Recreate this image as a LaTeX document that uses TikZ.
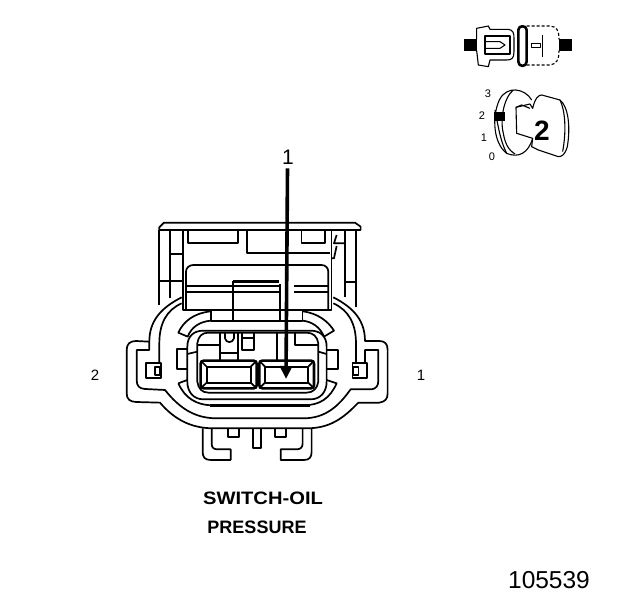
\documentclass[tikz,border=0pt]{standalone}
\usepackage{fontspec}
\setmainfont{Liberation Sans}
\usetikzlibrary{arrows.meta}
\tikzset{
    part/.style={line width=1.7pt, line join=round},
    heavy/.style={line width=2.6pt, line join=round},
    thin part/.style={line width=1.1pt, line join=round},
    lbl/.style={inner sep=0pt, font=\fontsize{15}{17}\selectfont},
    title/.style={inner sep=0pt, font=\fontsize{18}{20}\selectfont\bfseries},
    pin/.style={fill=black, draw=none}
}
\begin{document}
\begin{tikzpicture}[x=1pt,y=-1pt]
    \useasboundingbox (0,0) rectangle (624,600);

    % connector, drawn at 3x
    \begin{scope}[shift={(110,210)},x=0.3333pt,y=-0.3333pt]
        % cover
        \draw[part] (148,60) -- (148,52) -- (162,38) -- (735,38) -- (752,50) -- (752,60) -- cycle;
        \draw[part] (148,60) -- (148,285);
        \draw[part] (180,60) -- (180,265);
        \draw[part] (218,60) -- (218,300) -- (665,300) -- (665,60);
        \draw[part] (705,60) -- (705,262);
        \draw[part] (738,60) -- (738,292);
        \draw[part] (180,132) -- (218,132);
        \draw[part] (150,213) -- (218,213);
        \draw[part] (705,215) -- (738,215);
        \draw[part] (235,60) -- (235,100) -- (385,100) -- (385,60);
        \draw[part] (410,60) -- (410,128) -- (660,128);
        \draw[part] (575,60) -- (575,100) -- (645,100) -- (645,60);
        \draw[part] (680,75) -- (672,100) -- (705,100);
        \draw[part] (680,108) -- (672,145) -- (665,145);
        % sliding lock
        \draw[part] (228,300) -- (228,185) to[out=90,in=180] (250,165) -- (635,165) to[out=0,in=90] (655,185) -- (655,300);
        \draw[heavy] (370,214) -- (508,214);
        \draw[part] (228,228) -- (510,228) (228,246) -- (510,246);
        \draw[part] (553,228) -- (655,228) (553,246) -- (655,246);
        \draw[part] (370,214) -- (370,332);
        \draw[part] (510,222) -- (510,332);
        \draw[part] (302,300) -- (302,332) -- (578,332) -- (578,300);
        % body
        \draw[part] (215,262) .. controls (150,295) and (118,335) .. (118,395) -- (78,393)
            .. controls (60,393) and (50,402) .. (50,420) -- (50,550)
            .. controls (50,568) and (60,575) .. (78,576) -- (150,578)
            .. controls (190,625) and (240,655) .. (310,655) -- (590,655)
            .. controls (660,655) and (700,625) .. (745,578) -- (808,578)
            .. controls (825,575) and (833,568) .. (833,550) -- (833,420)
            .. controls (833,402) and (825,393) .. (808,393) -- (765,393)
            .. controls (765,335) and (735,295) .. (670,262);
        \draw[part] (215,280) .. controls (170,300) and (148,340) .. (148,400) -- (148,458);
        \draw[part] (670,280) .. controls (715,300) and (738,340) .. (738,400) -- (738,458);
        \draw[part] (118,395) -- (118,420) -- (80,420) -- (80,510)
            .. controls (80,528) and (88,536) .. (105,537) -- (165,540)
            .. controls (205,590) and (250,625) .. (320,625) -- (580,625)
            .. controls (645,625) and (685,590) .. (722,538) -- (785,538)
            .. controls (798,536) and (805,528) .. (805,512) -- (805,420) -- (765,420) -- (765,458);
        \draw[part] (108,458) rectangle (152,505);
        \draw[part] (134,472) rectangle (150,495);
        \draw[part] (728,458) rectangle (772,505);
        \draw[part] (730,472) rectangle (746,495);
        % ring around the plug
        \draw[part] (302,304) .. controls (250,310) and (220,335) .. (205,368) -- (233,380)
            .. controls (245,350) and (270,335) .. (302,332);
        \draw[part] (578,304) .. controls (625,310) and (655,335) .. (672,362) -- (642,380)
            .. controls (630,350) and (605,335) .. (578,332);
        \draw[part] (205,520) .. controls (225,565) and (260,586) .. (310,586) -- (580,586)
            .. controls (630,586) and (660,565) .. (680,520) -- (650,510);
        \draw[part] (205,520) -- (232,510);
        \draw[heavy] (300,586) -- (600,586);
        % plug
        \draw[part] (232,480) -- (232,410) .. controls (232,380) and (250,362) .. (280,362) -- (602,362)
            .. controls (632,362) and (650,380) .. (650,410) -- (650,515)
            .. controls (650,545) and (632,568) .. (602,568) -- (280,568)
            .. controls (250,568) and (232,545) .. (232,515) -- cycle;
        \draw[part] (262,432) -- (262,400) .. controls (265,380) and (275,368) .. (295,368) -- (590,368)
            .. controls (610,368) and (622,380) .. (625,400) -- (625,515)
            .. controls (622,535) and (610,548) .. (590,548) -- (295,548)
            .. controls (275,548) and (265,535) .. (262,515) -- cycle;
        \draw[part] (232,432) -- (262,425);
        \draw[part] (650,432) -- (625,425);
        \draw[part] (232,416) -- (200,416) -- (200,478) -- (232,478);
        \draw[part] (650,420) -- (685,420) -- (685,478) -- (650,478);
        \draw[part] (262,405) -- (330,405) (330,368) -- (330,452) (385,368) -- (385,452) (330,430) -- (385,430);
        \draw[part] (345,368) -- (345,385) .. controls (348,400) and (368,400) .. (372,385) -- (372,368);
        \draw[part] (395,368) -- (395,420) -- (432,420) -- (432,368) (395,385) -- (432,385);
        \draw[part] (500,368) -- (500,452);
        \draw[part] (555,368) -- (555,405) -- (625,405);
        % terminals
        \draw[heavy,rounded corners=3pt] (272,452) rectangle (440,535);
        \draw[part] (290,470) rectangle (422,518);
        \draw[part] (272,452) -- (290,470) (440,452) -- (422,470) (272,535) -- (290,518) (440,535) -- (422,518);
        \draw[heavy,rounded corners=3pt] (448,452) rectangle (612,535);
        \draw[part] (465,470) rectangle (595,518);
        \draw[part] (448,452) -- (465,470) (612,452) -- (595,470) (448,535) -- (465,518) (612,535) -- (595,518);
        % lower tabs
        \draw[part] (278,655) -- (278,725) .. controls (278,742) and (285,750) .. (302,750) -- (362,750) -- (362,718) -- (322,718)
            .. controls (310,718) and (305,712) .. (305,700) -- (305,655);
        \draw[part] (355,655) -- (355,682) -- (388,682) -- (388,655);
        \draw[part] (428,655) -- (428,715) -- (452,715) -- (452,655);
        \draw[part] (495,655) -- (495,682) -- (528,682) -- (528,655);
        \draw[part] (605,655) -- (605,725) .. controls (605,742) and (598,750) .. (582,750) -- (512,750) -- (512,718) -- (560,718)
            .. controls (572,718) and (578,712) .. (578,700) -- (578,655);
    \end{scope}

    % key view, drawn at 3x
    \begin{scope}[shift={(450,10)},x=0.3333pt,y=-0.3333pt]
        \draw[thin part] (80,88) -- (80,55) -- (115,48) -- (120,58) -- (175,58) .. controls (190,60) and (192,70) .. (192,85)
            -- (192,125) .. controls (192,145) and (185,150) .. (170,150) -- (120,150) -- (115,170) -- (85,165) -- (80,122);
        \draw[thin part] (105,78) -- (105,132) -- (180,132) -- (180,78) -- cycle;
        \draw[thin part] (105,95) -- (150,95) -- (165,105) -- (150,115) -- (105,115);
        \draw[heavy] (205,60) .. controls (205,45) and (230,45) .. (230,60) -- (230,155) .. controls (230,172) and (205,172) .. (205,155) -- cycle;
        \draw[thin part,densely dashed] (230,48) -- (300,48) .. controls (320,50) and (327,60) .. (327,88);
        \draw[thin part,densely dashed] (230,165) -- (300,165) .. controls (320,162) and (327,150) .. (327,122);
        \draw[thin part] (245,100) -- (272,100) -- (272,113) -- (245,113) -- cycle;
        \draw[thin part] (277,75) -- (277,140);
        \node[pin,minimum width=12.6pt,minimum height=11.4pt,inner sep=0pt] (pinleft) at (61,105) {};
        \node[pin,minimum width=12.6pt,minimum height=11.4pt,inner sep=0pt] (pinright) at (346,105) {};
        % key
        \draw[thin part] (245,270) .. controls (225,235) and (170,225) .. (148,270) .. controls (125,320) and (130,400) .. (170,430) .. controls (205,445) and (235,430) .. (248,385);
        \draw[thin part] (190,240) .. controls (160,265) and (150,330) .. (160,370) .. controls (165,400) and (175,420) .. (195,432);
        \draw[thin part] (135,300) .. controls (145,350) and (150,390) .. (170,430);
        \draw[thin part] (198,292) -- (240,282) -- (248,295) .. controls (255,265) and (265,255) .. (275,255)
            -- (330,270) .. controls (355,290) and (362,350) .. (352,410) .. controls (345,435) and (335,440) .. (325,440)
            -- (265,420) -- (245,410) -- (248,385) -- (200,370) -- cycle;
        \draw[thin part] (198,292) -- (215,285) -- (240,295);
        \draw[thin part] (330,270) .. controls (345,300) and (350,360) .. (338,425);
        \node[pin,minimum width=11pt,minimum height=9.5pt,inner sep=0pt] (cavity) at (148,320) {};
    \end{scope}

    \node[lbl,font=\fontsize{11}{13}\selectfont] (pos3) at (488,94) {3};
    \node[lbl,font=\fontsize{11}{13}\selectfont] (pos2) at (482,116) {2};
    \node[lbl,font=\fontsize{11}{13}\selectfont] (pos1) at (484,138) {1};
    \node[lbl,font=\fontsize{11}{13}\selectfont] (pos0) at (492,157) {0};
    \node[lbl,font=\fontsize{28}{30}\selectfont\bfseries] (keynum) at (542,131) {2};

    % labels
    \node[lbl,font=\fontsize{21}{23}\selectfont] (callout) at (288,157) {1};
    \coordinate (terminal) at (286,379);
    \draw[line width=3.6pt,-{Triangle[length=13pt,width=12pt]}] (callout.south) ++(-0.5,4) -- (terminal);
    \node[lbl] (cavity2) at (95,375) {2};
    \node[lbl] (cavity1) at (421,375) {1};
    \node[title,font=\fontsize{18}{20}\selectfont\bfseries,xscale=1.12] (name1) at (263,498) {SWITCH-OIL};
    \node[title] (name2) at (257,527) {PRESSURE};
    \node[lbl,font=\fontsize{24.5}{26}\selectfont] (partno) at (549,580) {105539};
\end{tikzpicture}
\end{document}
